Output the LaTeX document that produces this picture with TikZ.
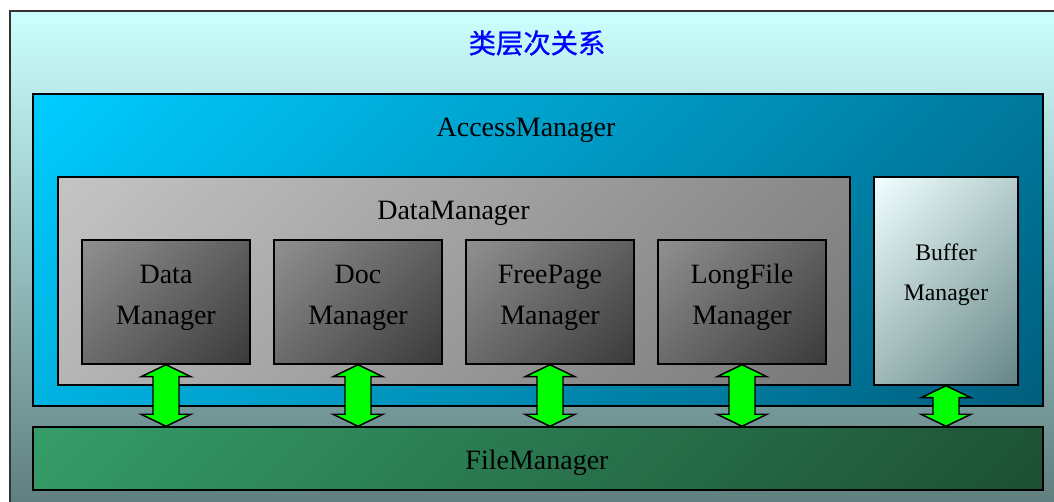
\documentclass[tikz,border=0pt]{standalone}
\usepackage{fontspec}
\setmainfont{Liberation Serif}
\newfontfamily\cjk[FakeBold=0.8]{Noto Sans CJK SC}
\usepackage{tikz}
\usetikzlibrary{calc}

\definecolor{frametop}{HTML}{CCFFFF}
\definecolor{framebot}{HTML}{5A7878}
\definecolor{acctop}{HTML}{00CCFF}
\definecolor{accbot}{HTML}{005E7E}
\definecolor{datatop}{HTML}{C4C4C4}
\definecolor{databot}{HTML}{787878}
\definecolor{subtop}{HTML}{909090}
\definecolor{subbot}{HTML}{3A3A3A}
\definecolor{buftop}{HTML}{F0FFFF}
\definecolor{bufbot}{HTML}{668686}
\definecolor{filetop}{HTML}{359C68}
\definecolor{filebot}{HTML}{1D5034}
\definecolor{arrowgreen}{HTML}{00FF00}
\colorlet{ctop}{white}
\colorlet{cbot}{black}

% corner to corner shading
\pgfdeclareverticalshading[ctop,cbot]{diag}{100bp}{color(0bp)=(cbot); color(15bp)=(cbot);
  color(85bp)=(ctop); color(100bp)=(ctop)}

\def\pxu{0.75pt}

% double block arrow from a node to a node below it
\newcommand{\updown}[2]{%
  \draw[dblarrow] let \p1=(#1), \p2=(#2) in
    (\x1,\y1) -- (\x1+18.75pt,\y1-9pt) -- (\x1+9.75pt,\y1-9pt)
    -- (\x1+9.75pt,\y2+9pt) -- (\x1+18.75pt,\y2+9pt) -- (\x1,\y2)
    -- (\x1-18.75pt,\y2+9pt) -- (\x1-9.75pt,\y2+9pt)
    -- (\x1-9.75pt,\y1-9pt) -- (\x1-18.75pt,\y1-9pt) -- cycle;}

\begin{document}
\begin{tikzpicture}[x=0.75pt, y=-0.75pt,
    mybox/.style 2 args={draw=black, line width=1.1pt, inner sep=0pt,
      /utils/exec={\colorlet{ctop}{#1}\colorlet{cbot}{#2}},
      shade, shading=diag, shading angle=45},
    txt/.style={font=\fontsize{21}{30.75}\selectfont, align=center, inner sep=0pt},
    small/.style={font=\fontsize{17.8}{30}\selectfont, align=center, inner sep=0pt},
    dblarrow/.style={fill=arrowgreen, draw=black, line width=1.1pt, line join=miter}]
  \path[use as bounding box] (0,0) rectangle (1054,502);
  \clip (0,0) rectangle (1054,502);
  \fill[white] (0,0) rectangle (1054,502);

  % outer frame
  \shade[top color=frametop, bottom color=framebot, draw=black!80, line width=1.5pt]
    (10,11) rectangle (1080,530);
  \node[font=\cjk\fontsize{20.5}{24}\selectfont, text=blue] (title) at (537,43) {类层次关系};

  % AccessManager
  \node[mybox={acctop}{accbot}, minimum width=1010*\pxu, minimum height=312*\pxu] (am) at (538,250) {};
  \node[txt] (amtext) at (526,130) {AccessManager};

  % DataManager
  \node[mybox={datatop}{databot}, minimum width=792*\pxu, minimum height=208*\pxu] (dm) at (454,281) {};
  \node[txt] (dmtext) at (453.5,213) {DataManager};

  % the four managers inside
  \node[mybox={subtop}{subbot}, minimum width=168*\pxu, minimum height=124*\pxu] (d1) at (166,302) {};
  \node[mybox={subtop}{subbot}, minimum width=168*\pxu, minimum height=124*\pxu] (d2) at (358,302) {};
  \node[mybox={subtop}{subbot}, minimum width=168*\pxu, minimum height=124*\pxu] (d3) at (550,302) {};
  \node[mybox={subtop}{subbot}, minimum width=168*\pxu, minimum height=124*\pxu] (d4) at (742,302) {};
  \node[txt] (t1) at (166,297.5) {Data\\Manager};
  \node[txt] (t2) at (358,297.5) {Doc\\Manager};
  \node[txt] (t3) at (550,297.5) {FreePage\\Manager};
  \node[txt] (t4) at (742,297.5) {LongFile\\Manager};

  % BufferManager
  \node[mybox={buftop}{bufbot}, minimum width=144*\pxu, minimum height=208*\pxu] (bm) at (946,281) {};
  \node[small] (bmtext) at (946,274.5) {Buffer\\Manager};

  % FileManager
  \node[mybox={filetop}{filebot}, minimum width=1010*\pxu, minimum height=63*\pxu] (fm) at (538,458.5) {};
  \node[txt] (fmtext) at (537,463) {FileManager};

  % arrows
  \foreach \bx in {d1,d2,d3,d4,bm}
    \updown{\bx.south}{\bx.south |- fm.north};
\end{tikzpicture}
\end{document}
